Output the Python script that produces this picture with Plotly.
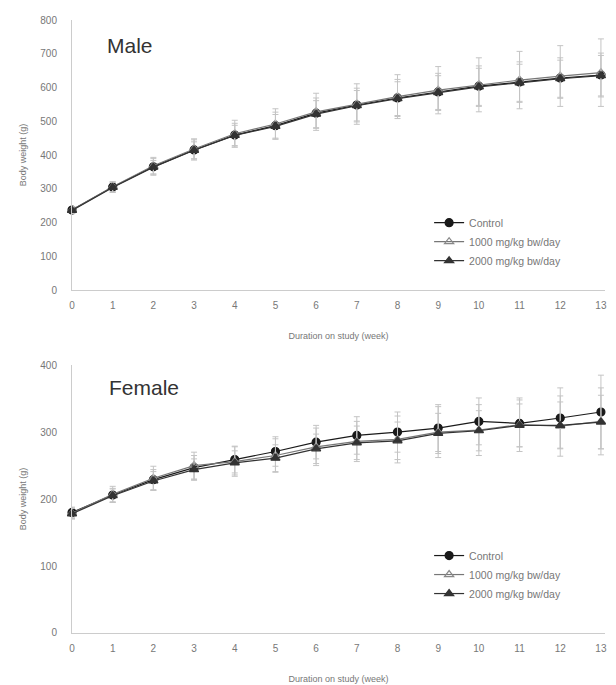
import plotly.graph_objects as go
from plotly.subplots import make_subplots

weeks = list(range(14))

male_control = [237, 305, 365, 415, 459, 487, 524, 548, 569, 587, 604, 616, 628, 637]
male_1000 = [237, 306, 368, 418, 463, 492, 528, 551, 573, 592, 608, 622, 634, 644]
male_2000 = [236, 304, 364, 414, 458, 485, 521, 546, 567, 585, 602, 614, 626, 635]
male_sd_control = [10, 15, 25, 30, 35, 40, 45, 50, 55, 55, 60, 60, 60, 65]
male_sd_1000 = [10, 15, 25, 30, 40, 45, 55, 60, 65, 70, 80, 85, 90, 100]
male_sd_2000 = [10, 15, 20, 25, 30, 35, 40, 45, 50, 50, 55, 55, 55, 60]

female_control = [180, 206, 229, 247, 259, 271, 285, 295, 300, 306, 316, 313, 321, 330]
female_1000 = [179, 207, 231, 250, 256, 265, 278, 286, 289, 300, 303, 311, 309, 316]
female_2000 = [178, 205, 227, 244, 254, 261, 275, 284, 287, 298, 302, 310, 310, 315]
female_sd_control = [8, 10, 15, 18, 20, 22, 25, 28, 30, 35, 35, 35, 45, 55]
female_sd_1000 = [8, 12, 18, 20, 22, 25, 28, 30, 35, 38, 38, 40, 45, 50]
female_sd_2000 = [8, 10, 14, 16, 18, 20, 22, 25, 28, 30, 30, 32, 35, 40]

series_names = ["Control", "1000 mg/kg bw/day", "2000 mg/kg bw/day"]
x_ticks = [str(w) for w in weeks]

fig = make_subplots(rows=2, cols=1, vertical_spacing=0.12)

styles = [
    dict(symbol="circle", color="#1a1a1a", line_color="#1a1a1a", size=8),
    dict(symbol="triangle-up-open", color="#888888", line_color="#777777", size=8),
    dict(symbol="triangle-up", color="#333333", line_color="#333333", size=8),
]

male = [(male_control, male_sd_control), (male_1000, male_sd_1000), (male_2000, male_sd_2000)]
female = [(female_control, female_sd_control), (female_1000, female_sd_1000), (female_2000, female_sd_2000)]

for i, (vals, sd) in enumerate(male):
    st = styles[i]
    fig.add_trace(go.Scatter(
        x=weeks, y=vals, name=series_names[i], mode="lines+markers",
        line=dict(color=st["line_color"], width=1.2),
        marker=dict(symbol=st["symbol"], size=st["size"], color=st["color"],
                    line=dict(color=st["line_color"], width=1.2)),
        error_y=dict(type="data", array=sd, visible=True, color="#c4c4c4", thickness=1, width=3),
        cliponaxis=False, legend="legend"), row=1, col=1)

for i, (vals, sd) in enumerate(female):
    st = styles[i]
    fig.add_trace(go.Scatter(
        x=weeks, y=vals, name=series_names[i], mode="lines+markers",
        line=dict(color=st["line_color"], width=1.2),
        marker=dict(symbol=st["symbol"], size=st["size"], color=st["color"],
                    line=dict(color=st["line_color"], width=1.2)),
        error_y=dict(type="data", array=sd, visible=True, color="#c4c4c4", thickness=1, width=3),
        cliponaxis=False, legend="legend2"), row=2, col=1)

font_main = "Liberation Sans, Arial, sans-serif"
tick_font = dict(size=10, color="#777777")
title_font = dict(size=9, color="#777777")

fig.update_xaxes(showgrid=False, zeroline=False, showline=True, linecolor="#cccccc", linewidth=1,
                 ticks="outside", ticklen=6, tickcolor="rgba(0,0,0,0)", tickfont=tick_font,
                 range=[0, 13.1], tickmode="array", tickvals=weeks, ticktext=x_ticks, automargin=False)
fig.update_yaxes(showgrid=False, zeroline=False, showline=True, linecolor="#cccccc", linewidth=1,
                 ticks="outside", ticklen=12, tickcolor="rgba(0,0,0,0)", tickfont=tick_font, automargin=False)
fig.update_xaxes(title=dict(text="Duration on study (week)", font=title_font, standoff=22), row=1, col=1)
fig.update_xaxes(title=dict(text="Duration on study (week)", font=title_font, standoff=22), row=2, col=1)
fig.update_yaxes(range=[0, 800], dtick=100, row=1, col=1,
                 title=dict(text="Body weight (g)", font=title_font, standoff=12))
fig.update_yaxes(range=[0, 400], dtick=100, row=2, col=1,
                 title=dict(text="Body weight (g)", font=title_font, standoff=12))

fig.update_layout(
    width=616, height=685,
    margin=dict(l=72, r=11, t=20, b=52, autoexpand=False),
    paper_bgcolor="white", plot_bgcolor="white",
    font=dict(family=font_main, color="#555555"),
    yaxis=dict(domain=[0.5595, 1.0]),
    yaxis2=dict(domain=[0.0, 0.437]),
    legend=dict(x=0.67, y=0.693, xanchor="left", yanchor="top", bgcolor="rgba(0,0,0,0)",
                font=dict(size=10.5, color="#777777"), tracegroupgap=0, itemwidth=30),
    legend2=dict(x=0.67, y=0.150, xanchor="left", yanchor="top", bgcolor="rgba(0,0,0,0)",
                 font=dict(size=10.5, color="#777777"), tracegroupgap=0, itemwidth=30),
    showlegend=True,
    annotations=[
        dict(text="Male", x=0.062, y=0.958, xref="paper", yref="paper", showarrow=False,
             xanchor="left", yanchor="middle", font=dict(size=21, color="#333333")),
        dict(text="Female", x=0.066, y=0.40, xref="paper", yref="paper", showarrow=False,
             xanchor="left", yanchor="middle", font=dict(size=21, color="#333333")),
    ],
)

fig.write_html("out.html", config={"displayModeBar": False},
               post_script="document.body.style.margin='0';document.body.style.overflow='hidden';")
